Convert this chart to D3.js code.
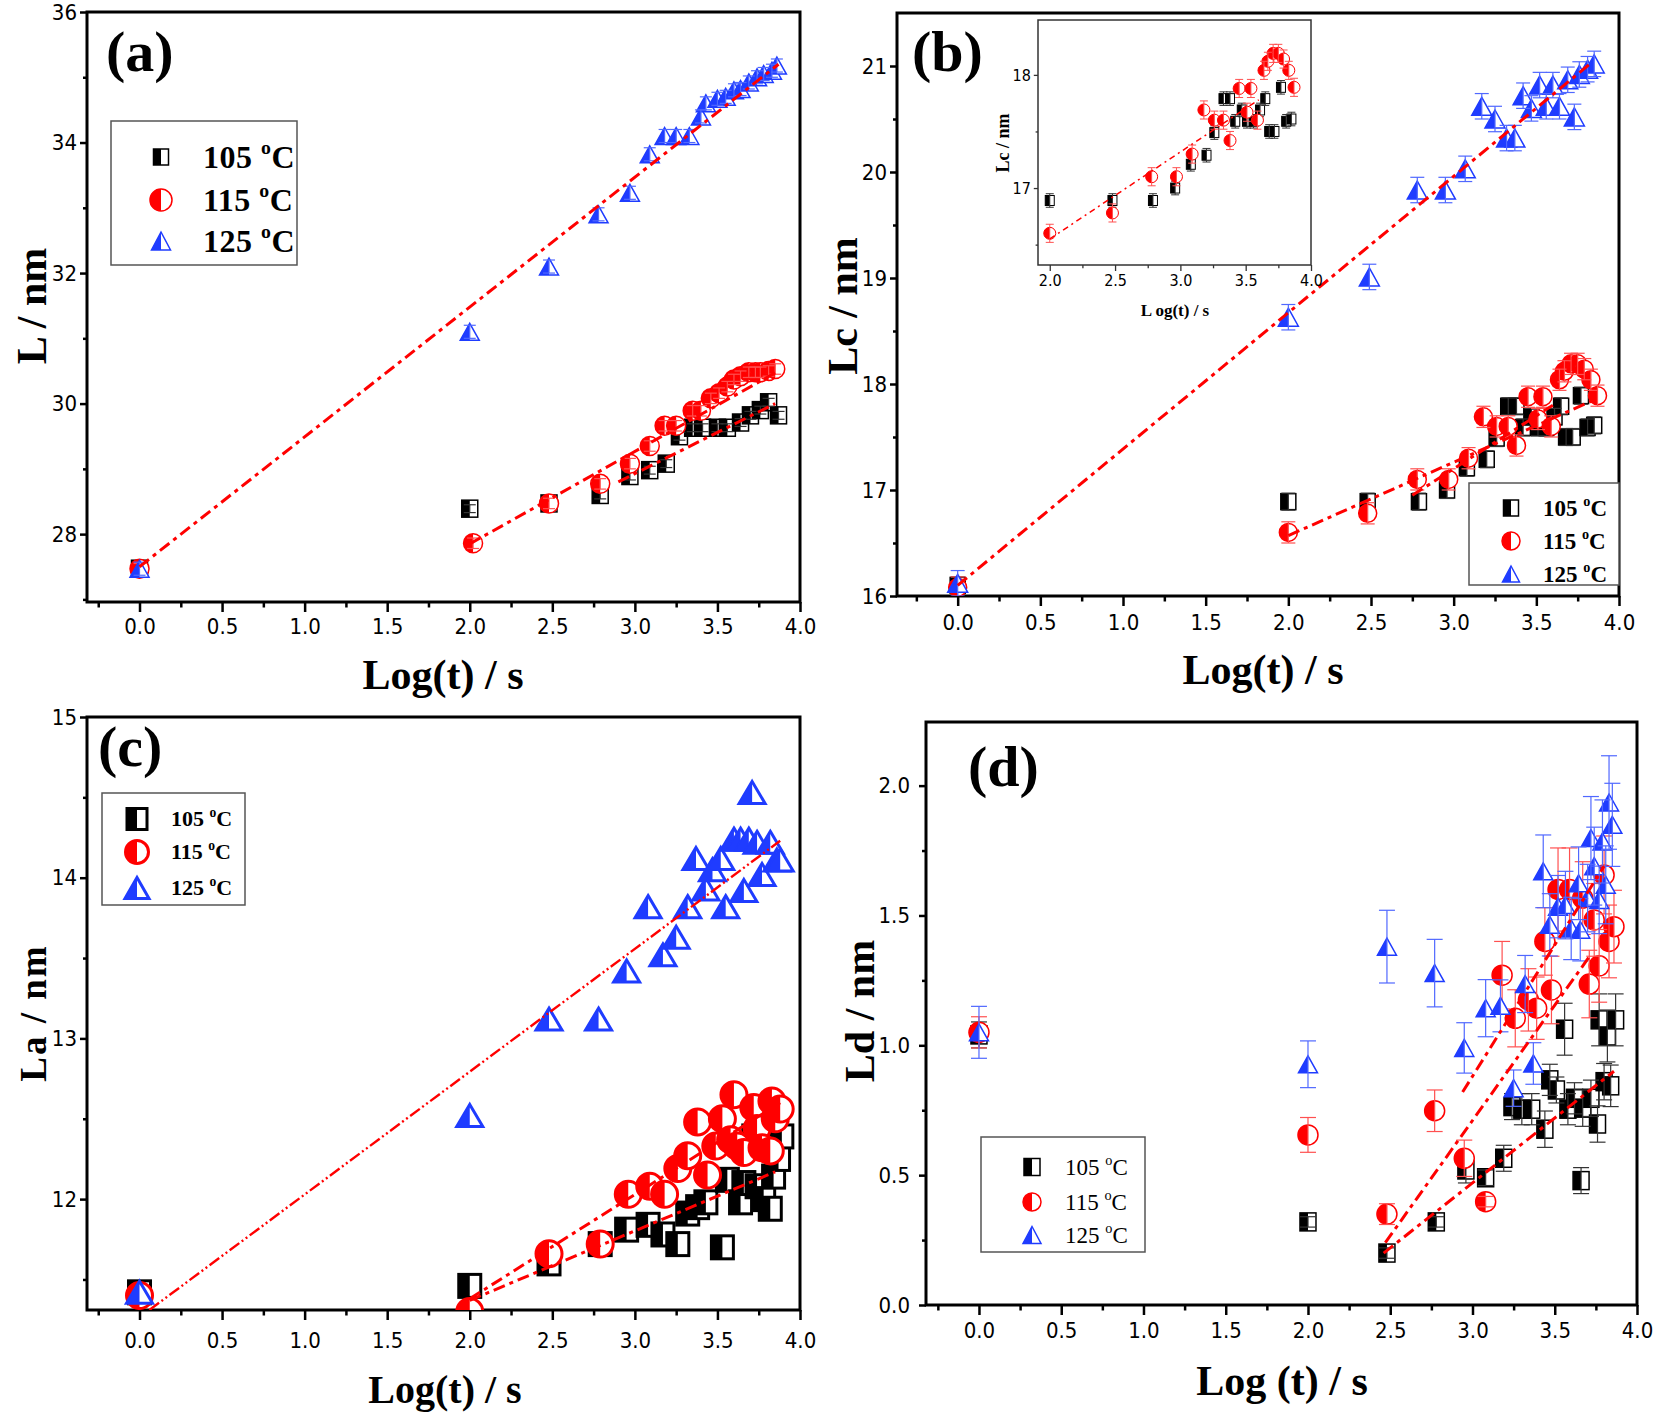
<!DOCTYPE html>
<html>
<head>
<meta charset="utf-8">
<title>Lamellar sizes vs Log(t)</title>
<script src="https://d3js.org/d3.v7.min.js"></script>
<style>
  body { margin: 0; background: #fff; }
  .tick text { font-family: "Liberation Sans Narrow", "Arial Narrow", "DejaVu Sans Condensed", sans-serif; fill: #000; }
  .serif { font-family: "Liberation Serif", "Times New Roman", serif; fill: #000; }
</style>
</head>
<body>
<svg id="chart" width="1654" height="1413"></svg>
<script>
// ---- tick values ----
var xTicks = [0, 0.5, 1, 1.5, 2, 2.5, 3, 3.5, 4];
var xMinor = [-0.25, 0.25, 0.75, 1.25, 1.75, 2.25, 2.75, 3.25, 3.75];
var insetXTicks = [2, 2.5, 3, 3.5, 4];
var insetXMinor = [2.25, 2.75, 3.25, 3.75];
var yTicksA = [28, 30, 32, 34, 36], yMinorA = [27, 29, 31, 33, 35];
var yTicksB = [16, 17, 18, 19, 20, 21], yMinorB = [16.5, 17.5, 18.5, 19.5, 20.5];
var yTicksInset = [17, 18], yMinorInset = [16.5, 17.5];
var yTicksC = [12, 13, 14, 15], yMinorC = [11.5, 12.5, 13.5, 14.5];
var yTicksD = [0, 0.5, 1, 1.5, 2], yMinorD = [0.25, 0.75, 1.25, 1.75];

var temps = ["105", "115", "125"];
var panelLetters = ["(a)", "(b)", "(c)", "(d)"];
var yTitles = ["L / nm", "Lc / nm", "La / nm", "Ld / nm"];
var xTitles = ["Log(t) / s", "Log(t) / s", "Log(t) / s", "Log (t) / s"];

// ---- (a) L ----  [log t, value]
var a105 = [[0,27.47],[2.0,28.39],[2.48,28.47],[2.79,28.6],[2.97,28.89],[3.09,28.98],[3.19,29.08],[3.27,29.5],[3.35,29.63],[3.41,29.63],[3.5,29.63],[3.56,29.63],[3.64,29.71],[3.7,29.82],[3.76,29.9],[3.81,30.02],[3.87,29.82]];
var a115 = [[0,27.47],[2.02,27.86],[2.48,28.47],[2.79,28.77],[2.97,29.08],[3.09,29.35],[3.18,29.66],[3.25,29.66],[3.35,29.89],[3.4,29.89],[3.46,30.08],[3.51,30.16],[3.56,30.26],[3.6,30.37],[3.64,30.42],[3.69,30.48],[3.73,30.48],[3.76,30.48],[3.81,30.5],[3.85,30.53]];
var a125 = [[0,27.47],[2.0,31.1],[2.48,32.1],[2.78,32.9],[2.97,33.23],[3.09,33.82],[3.18,34.1],[3.25,34.1],[3.33,34.1],[3.4,34.4],[3.43,34.6],[3.5,34.67],[3.55,34.7],[3.6,34.8],[3.64,34.82],[3.69,34.92],[3.74,35.0],[3.78,35.05],[3.83,35.1],[3.86,35.18]];
var errA = [0.06, 0.08, 0.1];
var fitA105 = [[2.9,28.8],[3.85,30.0]];
var fitA115 = [[2.0,27.85],[3.87,30.5]];
var fitA125 = [[0,27.5],[3.87,35.2]];

// ---- (b) Lc ----
var b105 = [[0,16.1],[2.0,16.89],[2.48,16.89],[2.79,16.89],[2.96,17.0],[3.08,17.21],[3.2,17.29],[3.26,17.49],[3.33,17.79],[3.38,17.79],[3.42,17.59],[3.47,17.69],[3.51,17.59],[3.56,17.59],[3.61,17.69],[3.65,17.79],[3.68,17.5],[3.72,17.5],[3.77,17.89],[3.81,17.59],[3.85,17.61]];
var b115 = [[0,16.08],[2.0,16.6],[2.48,16.78],[2.78,17.1],[2.97,17.1],[3.09,17.3],[3.18,17.69],[3.26,17.6],[3.33,17.6],[3.38,17.42],[3.45,17.88],[3.51,17.67],[3.54,17.88],[3.59,17.6],[3.64,18.04],[3.67,18.12],[3.71,18.19],[3.75,18.19],[3.79,18.14],[3.83,18.04],[3.87,17.89]];
var b125 = [[0,16.12],[2.0,18.63],[2.49,19.01],[2.78,19.83],[2.95,19.83],[3.07,20.03],[3.17,20.62],[3.25,20.5],[3.32,20.32],[3.37,20.32],[3.42,20.72],[3.47,20.6],[3.52,20.82],[3.56,20.62],[3.6,20.82],[3.64,20.62],[3.69,20.87],[3.73,20.52],[3.76,20.92],[3.81,20.97],[3.85,21.02]];
var errB = [0.08, 0.1, 0.12];
var fitB105 = [[2.75,16.95],[3.6,17.8]];
var fitB115 = [[2.0,16.57],[3.85,17.85]];
var fitB125 = [[0,16.1],[3.84,21.04]];
var fitInset = [[2.0,16.55],[3.6,17.78]];

// ---- (c) La ----
var c105 = [[0,11.42],[2.0,11.46],[2.48,11.6],[2.79,11.72],[2.95,11.81],[3.08,11.84],[3.17,11.78],[3.26,11.72],[3.32,11.91],[3.38,11.95],[3.43,11.98],[3.53,11.7],[3.56,12.12],[3.64,11.98],[3.66,12.1],[3.72,12.39],[3.74,12.08],[3.78,12.0],[3.82,11.94],[3.84,12.14],[3.87,12.25],[3.89,12.39]];
var c115 = [[0,11.4],[2.0,11.3],[2.48,11.66],[2.79,11.72],[2.96,12.03],[3.09,12.08],[3.18,12.03],[3.26,12.19],[3.32,12.27],[3.38,12.48],[3.44,12.15],[3.49,12.33],[3.53,12.5],[3.58,12.37],[3.6,12.65],[3.62,12.33],[3.66,12.29],[3.72,12.57],[3.74,12.44],[3.77,12.32],[3.82,12.3],[3.83,12.61],[3.85,12.5],[3.88,12.56]];
var c125 = [[0,11.42],[2.0,12.52],[2.48,13.12],[2.78,13.12],[2.95,13.42],[3.08,13.82],[3.17,13.52],[3.25,13.63],[3.32,13.82],[3.37,14.12],[3.43,13.93],[3.47,14.05],[3.52,14.12],[3.55,13.82],[3.6,14.24],[3.64,14.24],[3.66,13.92],[3.69,14.24],[3.71,14.53],[3.74,14.22],[3.77,14.02],[3.82,14.22],[3.86,14.11],[3.88,14.11]];
var fitC105 = [[2.0,11.37],[3.85,12.17]];
var fitC115 = [[2.0,11.38],[3.88,12.6]];
var fitC125 = [[0.06,11.31],[3.88,14.23]];

// ---- (d) Ld ----  [log t, value, error]
var d105 = [[0,1.04,0.05],[2.0,0.32,0.02],[2.48,0.2,0.02],[2.78,0.32,0.02],[2.96,0.52,0.05],[3.08,0.49,0.03],[3.19,0.565,0.05],[3.24,0.764,0.05],[3.3,0.754,0.06],[3.36,0.754,0.06],[3.44,0.677,0.07],[3.47,0.867,0.06],[3.51,0.828,0.05],[3.56,1.062,0.1],[3.58,0.754,0.06],[3.62,0.796,0.06],[3.66,0.479,0.05],[3.67,0.758,0.07],[3.72,0.796,0.07],[3.76,0.697,0.07],[3.77,1.098,0.1],[3.8,0.86,0.07],[3.82,1.036,0.1],[3.84,0.844,0.08],[3.87,1.098,0.1]];
var d115 = [[0,1.05,0.06],[2.0,0.655,0.067],[2.48,0.35,0.04],[2.77,0.748,0.08],[2.95,0.565,0.07],[3.08,0.398,0.02],[3.18,1.27,0.13],[3.26,1.104,0.11],[3.34,1.175,0.12],[3.39,1.143,0.12],[3.44,1.4,0.13],[3.48,1.213,0.13],[3.52,1.6,0.16],[3.59,1.6,0.16],[3.67,1.567,0.14],[3.71,1.236,0.13],[3.74,1.483,0.14],[3.77,1.306,0.14],[3.8,1.656,0.15],[3.83,1.4,0.14],[3.86,1.457,0.14]];
var d125 = [[0,1.05,0.1],[2.0,0.927,0.09],[2.48,1.38,0.14],[2.77,1.278,0.13],[2.95,0.99,0.097],[3.08,1.143,0.11],[3.17,1.152,0.1],[3.25,0.835,0.07],[3.32,1.236,0.11],[3.37,0.93,0.08],[3.43,1.67,0.14],[3.47,1.464,0.12],[3.52,1.534,0.12],[3.565,1.54,0.13],[3.6,1.45,0.12],[3.645,1.624,0.14],[3.655,1.445,0.12],[3.7,1.567,0.13],[3.72,1.798,0.16],[3.74,1.69,0.15],[3.77,1.56,0.13],[3.79,1.785,0.16],[3.81,1.618,0.15],[3.83,1.935,0.18],[3.85,1.849,0.16]];
var fitD105 = [[2.46,0.2],[3.86,0.9]];
var fitD115 = [[2.47,0.24],[3.72,1.35]];
var fitD125 = [[2.94,0.82],[3.8,1.69]];

var kinds = ["sq", "ci", "tr"];
var colors = ["#000000", "#ff0000", "#1f3cff"];
var errColors = ["#333333", "#ff5050", "#5068ff"];
var fitColor = "#ff0000";

var svg = d3.select("#chart");
var clipId = 0;

function drawMarker(g, kind, s, color, sw) {
  if (kind === "sq") {
    g.append("rect").attr("x", -s.w / 2).attr("y", -s.h / 2).attr("width", s.w).attr("height", s.h)
      .attr("fill", "#fff").attr("stroke", color).attr("stroke-width", sw);
    g.append("rect").attr("x", -s.w / 2).attr("y", -s.h / 2).attr("width", s.w / 2).attr("height", s.h)
      .attr("fill", color);
  } else if (kind === "ci") {
    g.append("circle").attr("r", s.r).attr("fill", "#fff").attr("stroke", color).attr("stroke-width", sw);
    g.append("path").attr("d", "M0," + (-s.r) + "A" + s.r + "," + s.r + " 0 0 0 0," + s.r + "Z").attr("fill", color);
  } else {
    g.append("path").attr("d", "M0," + (-s.th / 2) + "L" + (s.tw / 2) + "," + (s.th / 2) + "L" + (-s.tw / 2) + "," + (s.th / 2) + "Z")
      .attr("fill", "#fff").attr("stroke", color).attr("stroke-width", sw);
    g.append("path").attr("d", "M0," + (-s.th / 2) + "L0," + (s.th / 2) + "L" + (-s.tw / 2) + "," + (s.th / 2) + "Z")
      .attr("fill", color);
  }
}

function drawPanel(p) {
  var box = p.box;
  var x = d3.scaleLinear().domain(p.xDomain).range([box.l, box.r]);
  var y = d3.scaleLinear().domain(p.yDomain).range([box.b, box.t]);
  var g = svg.append("g");

  if (p.bg) {
    g.append("rect").attr("x", box.l).attr("y", box.t).attr("width", box.r - box.l)
      .attr("height", box.b - box.t).attr("fill", "#fff");
  }

  // axes
  g.append("g").attr("transform", "translate(0," + box.b + ")")
    .call(d3.axisBottom(x).tickValues(p.xTicks).tickFormat(d3.format(".1f"))
      .tickSize(p.tick).tickSizeOuter(0).tickPadding(p.xPad));
  g.append("g").attr("transform", "translate(0," + box.b + ")")
    .call(d3.axisBottom(x).tickValues(p.xMinor).tickFormat("").tickSize(p.tick * 0.55).tickSizeOuter(0));
  g.append("g").attr("transform", "translate(" + box.l + ",0)")
    .call(d3.axisLeft(y).tickValues(p.yTicks).tickFormat(d3.format(p.yFmt))
      .tickSize(p.tick * 0.7).tickSizeOuter(0).tickPadding(p.yPad));
  g.append("g").attr("transform", "translate(" + box.l + ",0)")
    .call(d3.axisLeft(y).tickValues(p.yMinor).tickFormat("").tickSize(p.tick * 0.4).tickSizeOuter(0));
  g.selectAll(".domain").remove();
  g.selectAll(".tick line").attr("stroke", p.frameColor).attr("stroke-width", p.tickW);
  g.selectAll(".tick text").attr("font-size", p.tickFont);

  g.append("rect").attr("x", box.l).attr("y", box.t).attr("width", box.r - box.l)
    .attr("height", box.b - box.t).attr("fill", "none")
    .attr("stroke", p.frameColor).attr("stroke-width", p.frameW);

  // clip
  var id = "clip" + (clipId++);
  g.append("clipPath").attr("id", id).append("rect")
    .attr("x", box.l).attr("y", box.t).attr("width", box.r - box.l).attr("height", box.b - box.t);
  var plot = g.append("g").attr("clip-path", "url(#" + id + ")");

  p.series.forEach(function (ser) {
    var pts = plot.selectAll(null).data(ser.data).join("g")
      .attr("transform", function (d) { return "translate(" + x(d[0]) + "," + y(d[1]) + ")"; });
    pts.each(function () { drawMarker(d3.select(this), ser.kind, p.size, ser.color, p.sw); });
    function e(d) { return d.length > 2 ? d[2] : ser.err; }
    var withErr = ser.data.filter(function (d) { return e(d) > 0; });
    var eb = plot.selectAll(null).data(withErr).join("g").attr("stroke", ser.errColor).attr("stroke-width", p.errW);
    eb.append("line").attr("x1", function (d) { return x(d[0]); }).attr("x2", function (d) { return x(d[0]); })
      .attr("y1", function (d) { return y(d[1] - e(d)); }).attr("y2", function (d) { return y(d[1] + e(d)); });
    [1, -1].forEach(function (sgn) {
      eb.append("line")
        .attr("x1", function (d) { return x(d[0]) - p.cap / 2; }).attr("x2", function (d) { return x(d[0]) + p.cap / 2; })
        .attr("y1", function (d) { return y(d[1] + sgn * e(d)); }).attr("y2", function (d) { return y(d[1] + sgn * e(d)); });
    });
  });

  var line = d3.line().x(function (d) { return x(d[0]); }).y(function (d) { return y(d[1]); });
  p.fits.forEach(function (f) {
    plot.append("path").attr("d", line(f.pts)).attr("fill", "none").attr("stroke", fitColor)
      .attr("stroke-width", f.w).attr("stroke-dasharray", f.dash);
  });

  // titles
  if (p.letter) {
    g.append("text").attr("class", "serif").attr("x", p.letter.x).attr("y", p.letter.y)
      .attr("font-size", 58).attr("font-weight", "bold").text(p.letter.t);
  }
  g.append("text").attr("class", "serif").attr("x", p.xTitle.x).attr("y", p.xTitle.y)
    .attr("text-anchor", "middle").attr("font-size", p.xTitle.fs).attr("font-weight", "bold").text(p.xTitle.t);
  g.append("text").attr("class", "serif")
    .attr("transform", "translate(" + p.yTitle.x + "," + p.yTitle.y + ") rotate(-90)")
    .attr("text-anchor", "middle").attr("dominant-baseline", "central")
    .attr("letter-spacing", p.yTitle.ls || 0)
    .attr("font-size", p.yTitle.fs).attr("font-weight", "bold").text(p.yTitle.t);

  // legend
  if (p.legend) {
    var L = p.legend;
    var lg = g.append("g");
    lg.append("rect").attr("x", L.x).attr("y", L.y).attr("width", L.w).attr("height", L.h)
      .attr("fill", "#fff").attr("stroke", "#555").attr("stroke-width", 1.5);
    temps.forEach(function (t, i) {
      var s = lg.append("g").attr("transform", "translate(" + L.symX + "," + L.rows[i] + ")");
      drawMarker(s, kinds[i], L.size, colors[i], p.sw);
      var tx = lg.append("text").attr("class", "serif").attr("x", L.textX).attr("y", L.rows[i] + L.fs * 0.34)
        .attr("font-size", L.fs).attr("font-weight", L.fw).attr("letter-spacing", L.ls || 0);
      tx.append("tspan").text(t + " ");
      tx.append("tspan").attr("font-size", L.fs * 0.62).attr("dy", -L.fs * 0.42).text("o");
      tx.append("tspan").attr("dy", L.fs * 0.42).text("C");
    });
  }
}

function seriesOf(arrs, errs) {
  return arrs.map(function (a, i) {
    return { data: a, kind: kinds[i], color: colors[i], errColor: errColors[i], err: errs ? errs[i] : 0 };
  });
}

var mainFit = "12,5,4,5";

// (a)
drawPanel({
  box: { l: 87, r: 800, t: 12, b: 602 }, xDomain: [-0.318, 4], yDomain: [26.96, 36],
  xTicks: xTicks, xMinor: xMinor, yTicks: yTicksA, yMinor: yMinorA, yFmt: "d",
  tick: 10, tickW: 2.5, tickFont: 22, xPad: 6, yPad: 3, frameW: 3, frameColor: "#000",
  size: { w: 16, h: 17, r: 9.5, tw: 19, th: 17 }, sw: 1.5, errW: 1.2, cap: 12,
  series: seriesOf([a105, a115, a125], errA),
  fits: [{ pts: fitA105, w: 3, dash: mainFit }, { pts: fitA115, w: 3, dash: mainFit }, { pts: fitA125, w: 3, dash: mainFit }],
  letter: { x: 106, y: 71, t: panelLetters[0] },
  xTitle: { x: 443, y: 689, fs: 42, t: xTitles[0] },
  yTitle: { x: 32, y: 306, fs: 42, t: yTitles[0] },
  legend: { x: 111, y: 121, w: 186, h: 144, rows: [157, 200, 241], symX: 161, textX: 203, fs: 32, fw: "bold", ls: 0.5,
            size: { w: 15, h: 16, r: 11, tw: 19, th: 18 } }
});

// (b)
drawPanel({
  box: { l: 897, r: 1619, t: 13, b: 596 }, xDomain: [-0.367, 4], yDomain: [16, 21.5],
  xTicks: xTicks, xMinor: xMinor, yTicks: yTicksB, yMinor: yMinorB, yFmt: "d",
  tick: 10, tickW: 2.5, tickFont: 22, xPad: 8, yPad: 3, frameW: 3, frameColor: "#000",
  size: { w: 15, h: 16, r: 9, tw: 20, th: 18 }, sw: 1.5, errW: 1.2, cap: 14,
  series: seriesOf([b105, b115, b125], errB),
  fits: [{ pts: fitB105, w: 3, dash: mainFit }, { pts: fitB115, w: 3, dash: mainFit }, { pts: fitB125, w: 3, dash: mainFit }],
  letter: { x: 912, y: 71, t: panelLetters[1] },
  xTitle: { x: 1263, y: 684, fs: 42, t: xTitles[1] },
  yTitle: { x: 843, y: 306, fs: 42, t: yTitles[1] },
  legend: { x: 1469, y: 483, w: 150, h: 102, rows: [508, 541, 574], symX: 1511, textX: 1543, fs: 23, fw: "bold",
            size: { w: 15, h: 16, r: 9, tw: 17, th: 16 } }
});

// (b) inset
drawPanel({
  bg: true,
  box: { l: 1038, r: 1311, t: 20, b: 265 }, xDomain: [1.91, 4], yDomain: [16.32, 18.485],
  xTicks: insetXTicks, xMinor: insetXMinor, yTicks: yTicksInset, yMinor: yMinorInset, yFmt: "d",
  tick: 6, tickW: 1.3, tickFont: 16, xPad: 4, yPad: 3, frameW: 1.5, frameColor: "#333",
  size: { w: 9, h: 10, r: 6, tw: 10, th: 9 }, sw: 1, errW: 1, cap: 8,
  series: seriesOf([b105.filter(function (d) { return d[0] >= 1.9; }), b115.filter(function (d) { return d[0] >= 1.9; })], [0.06, 0.08]),
  fits: [{ pts: fitInset, w: 1.5, dash: "6,4,2,4" }],
  xTitle: { x: 1175, y: 316, fs: 17, t: "L og(t) / s" },
  yTitle: { x: 1003, y: 143, fs: 18, t: yTitles[1] }
});

// (c)
drawPanel({
  box: { l: 87, r: 800, t: 717, b: 1310 }, xDomain: [-0.318, 4], yDomain: [11.31, 15],
  xTicks: xTicks, xMinor: xMinor, yTicks: yTicksC, yMinor: yMinorC, yFmt: "d",
  tick: 10, tickW: 2.5, tickFont: 22, xPad: 12, yPad: 3, frameW: 3, frameColor: "#000",
  size: { w: 22, h: 23, r: 13, tw: 26, th: 22 }, sw: 3, errW: 1, cap: 10,
  series: seriesOf([c105, c115, c125], null),
  fits: [{ pts: fitC105, w: 3, dash: mainFit }, { pts: fitC115, w: 3, dash: mainFit },
         { pts: fitC125, w: 2.4, dash: "12,3,2,3,2,3" }],
  letter: { x: 98, y: 766, t: panelLetters[2] },
  xTitle: { x: 445, y: 1403, fs: 40, t: xTitles[2] },
  yTitle: { x: 33, y: 1013, fs: 37, ls: 2, t: yTitles[2] },
  legend: { x: 102, y: 793, w: 143, h: 112, rows: [819, 852, 888], symX: 137, textX: 171, fs: 22, fw: "bold",
            size: { w: 20, h: 21, r: 11.5, tw: 24, th: 21 } }
});

// (d)
drawPanel({
  box: { l: 926, r: 1637, t: 722, b: 1305 }, xDomain: [-0.322, 4], yDomain: [0, 2.245],
  xTicks: xTicks, xMinor: xMinor, yTicks: yTicksD, yMinor: yMinorD, yFmt: ".1f",
  tick: 10, tickW: 2.5, tickFont: 22, xPad: 7, yPad: 9, frameW: 3, frameColor: "#000",
  size: { w: 16, h: 18, r: 10, tw: 19, th: 17 }, sw: 1.5, errW: 1.2, cap: 16,
  series: seriesOf([d105, d115, d125], null),
  fits: [{ pts: fitD105, w: 3, dash: mainFit }, { pts: fitD115, w: 3, dash: mainFit }, { pts: fitD125, w: 3, dash: mainFit }],
  letter: { x: 968, y: 786, t: panelLetters[3] },
  xTitle: { x: 1282, y: 1395, fs: 42, t: xTitles[3] },
  yTitle: { x: 860, y: 1011, fs: 42, t: yTitles[3] },
  legend: { x: 981, y: 1137, w: 164, h: 115, rows: [1167, 1202, 1235], symX: 1032, textX: 1065, fs: 23, fw: "normal",
            size: { w: 16, h: 17, r: 9, tw: 18, th: 17 } }
});
</script>
</body>
</html>
